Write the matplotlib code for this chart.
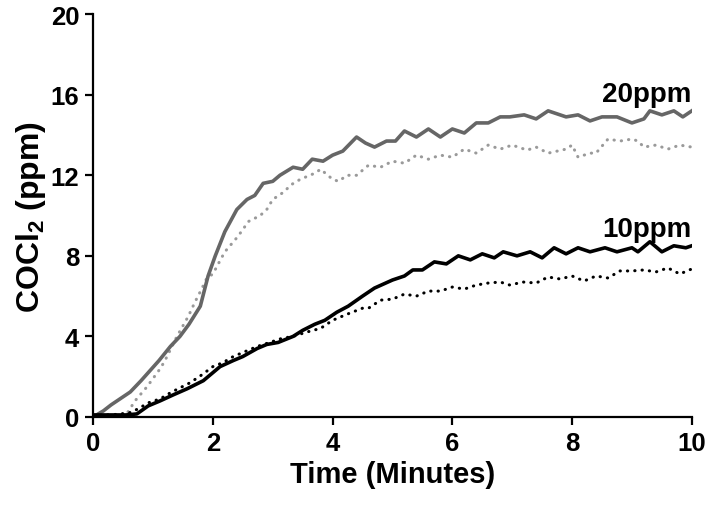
import matplotlib
matplotlib.use("Agg")
import matplotlib.pyplot as plt

# 20 ppm, solid (grey)
t20_solid = [0, 0.17, 0.3, 0.45, 0.62, 0.8, 0.95, 1.1, 1.29, 1.45, 1.6, 1.79, 1.92, 2.04, 2.2,
             2.4, 2.57, 2.7, 2.84, 3.0, 3.12, 3.34, 3.5, 3.66, 3.84, 4.0, 4.17, 4.4, 4.55, 4.7,
             4.9, 5.05, 5.2, 5.4, 5.6, 5.8, 6.0, 6.2, 6.4, 6.6, 6.8, 6.96, 7.2, 7.4, 7.6,
             7.9, 8.1, 8.3, 8.5, 8.75, 9.0, 9.2, 9.3, 9.5, 9.7, 9.85, 10.0]
v20_solid = [0, 0.3, 0.6, 0.9, 1.24, 1.8, 2.3, 2.8, 3.5, 4.0, 4.6, 5.5, 7.0, 8.0, 9.2,
             10.3, 10.8, 11.0, 11.6, 11.7, 12.0, 12.4, 12.3, 12.8, 12.7, 13.0, 13.2, 13.9, 13.6, 13.4,
             13.7, 13.7, 14.2, 13.9, 14.3, 13.9, 14.3, 14.1, 14.6, 14.6, 14.9, 14.9, 15.0, 14.8, 15.2,
             14.9, 15.0, 14.7, 14.9, 14.9, 14.6, 14.8, 15.2, 15.0, 15.2, 14.9, 15.2]

# 20 ppm, dotted (light grey)
t20_dot = [0, 0.3, 0.55, 0.7, 0.9, 1.12, 1.2, 1.4, 1.59, 1.7, 1.82, 1.9, 2.0, 2.09, 2.2,
           2.4, 2.5, 2.59, 2.79, 2.9, 3.0, 3.2, 3.29, 3.46, 3.7, 3.8, 4.0, 4.1, 4.24, 4.4,
           4.6, 4.8, 5.0, 5.2, 5.4, 5.6, 5.8, 6.0, 6.2, 6.4, 6.6, 6.8, 7.0, 7.25, 7.4,
           7.6, 7.9, 8.0, 8.1, 8.3, 8.4, 8.6, 8.8, 9.0, 9.1, 9.2, 9.4, 9.6, 9.8, 10.0]
v20_dot = [0, 0, 0.1, 0.8, 1.5, 2.4, 2.8, 4.0, 5.0, 5.7, 6.4, 6.9, 7.1, 7.6, 8.2,
           8.9, 9.3, 9.7, 10.0, 10.3, 10.8, 11.2, 11.5, 11.8, 12.1, 12.3, 11.8, 11.7, 12.0, 12.0,
           12.5, 12.4, 12.7, 12.6, 13.0, 12.8, 13.0, 12.9, 13.3, 13.1, 13.5, 13.3, 13.5, 13.25, 13.4,
           13.1, 13.3, 13.5, 12.9, 13.1, 13.1, 13.8, 13.7, 13.8, 13.7, 13.4, 13.5, 13.3, 13.5, 13.4]

# 10 ppm, solid (black)
t10_solid = [0, 0.3, 0.55, 0.73, 0.92, 1.12, 1.34, 1.57, 1.84, 2.12, 2.34, 2.5, 2.74, 2.9, 3.09,
             3.34, 3.5, 3.7, 3.87, 4.07, 4.26, 4.5, 4.7, 5.0, 5.2, 5.34, 5.5, 5.7, 5.9, 6.1,
             6.3, 6.5, 6.7, 6.85, 7.08, 7.3, 7.5, 7.7, 7.9, 8.1, 8.3, 8.55, 8.75, 9.0, 9.1,
             9.3, 9.5, 9.7, 9.9, 10.0]
v10_solid = [0.1, 0.1, 0.1, 0.15, 0.55, 0.8, 1.1, 1.4, 1.8, 2.5, 2.8, 3.0, 3.4, 3.6, 3.7,
             4.0, 4.3, 4.6, 4.8, 5.2, 5.5, 6.0, 6.4, 6.8, 7.0, 7.3, 7.3, 7.7, 7.6, 8.0,
             7.8, 8.1, 7.9, 8.2, 8.0, 8.2, 7.9, 8.4, 8.1, 8.4, 8.2, 8.4, 8.2, 8.4, 8.2,
             8.7, 8.2, 8.5, 8.4, 8.5]

# 10 ppm, dotted (black)
t10_dot = [0, 0.3, 0.6, 0.75, 0.92, 1.12, 1.29, 1.42, 1.62, 1.82, 2.0, 2.17, 2.34, 2.5, 2.74,
           2.95, 3.15, 3.34, 3.55, 3.8, 4.0, 4.24, 4.5, 4.6, 4.8, 5.0, 5.2, 5.4, 5.6, 5.8,
           6.0, 6.2, 6.4, 6.6, 6.8, 6.96, 7.18, 7.4, 7.6, 7.8, 8.0, 8.2, 8.4, 8.6, 8.8,
           9.0, 9.2, 9.4, 9.6, 9.8, 10.0]
v10_dot = [0.1, 0.1, 0.2, 0.4, 0.7, 0.9, 1.2, 1.4, 1.7, 2.1, 2.5, 2.7, 3.0, 3.2, 3.5,
           3.7, 3.9, 4.0, 4.2, 4.4, 4.8, 5.1, 5.4, 5.4, 5.8, 5.85, 6.1, 6.0, 6.25, 6.25,
           6.45, 6.35, 6.55, 6.65, 6.7, 6.55, 6.7, 6.65, 6.95, 6.85, 7.0, 6.75, 7.0, 6.9, 7.25,
           7.25, 7.3, 7.2, 7.4, 7.1, 7.35]

x_ticks = [0, 2, 4, 6, 8, 10]
y_ticks = [0, 4, 8, 12, 16, 20]

plt.rcParams['font.family'] = ['Liberation Sans', 'DejaVu Sans']
plt.rcParams['font.weight'] = 'bold'
plt.rcParams['mathtext.fontset'] = 'custom'
plt.rcParams['mathtext.rm'] = 'Liberation Sans:bold'
plt.rcParams['mathtext.bf'] = 'Liberation Sans:bold'

fig = plt.figure(figsize=(7.11, 5.06), dpi=100)
ax = fig.add_axes([0.131, 0.174, 0.842, 0.796])

dots = (0, (0.1, 2.3))
ax.plot(t20_dot, v20_dot, color='#9a9a9a', linewidth=2.2, linestyle=dots,
        dash_capstyle='round')
ax.plot(t10_dot, v10_dot, color='black', linewidth=2.2, linestyle=dots,
        dash_capstyle='round')
ax.plot(t20_solid, v20_solid, color='#666666', linewidth=2.6)
ax.plot(t10_solid, v10_solid, color='black', linewidth=2.6)

ax.text(10, 15.7, '20ppm', ha='right', va='baseline', fontsize=20, fontweight='bold')
ax.text(10, 9.0, '10ppm', ha='right', va='baseline', fontsize=20, fontweight='bold')

ax.set_xlim(0, 10)
ax.set_ylim(0, 20)
ax.set_xticks(x_ticks)
ax.set_yticks(y_ticks)
ax.tick_params(direction='out', length=6, width=1.6, labelsize=18.5, pad=4)
for lab in ax.get_xticklabels() + ax.get_yticklabels():
    lab.set_fontweight('bold')

ax.spines['top'].set_visible(False)
ax.spines['right'].set_visible(False)
ax.spines['left'].set_linewidth(1.6)
ax.spines['bottom'].set_linewidth(1.6)

ax.set_xlabel('Time (Minutes)', fontsize=21, fontweight='bold', labelpad=4)
ax.set_ylabel(r'COCl$_2$ (ppm)', fontsize=23, fontweight='bold', labelpad=2)

fig.savefig('out.png', dpi=100)
